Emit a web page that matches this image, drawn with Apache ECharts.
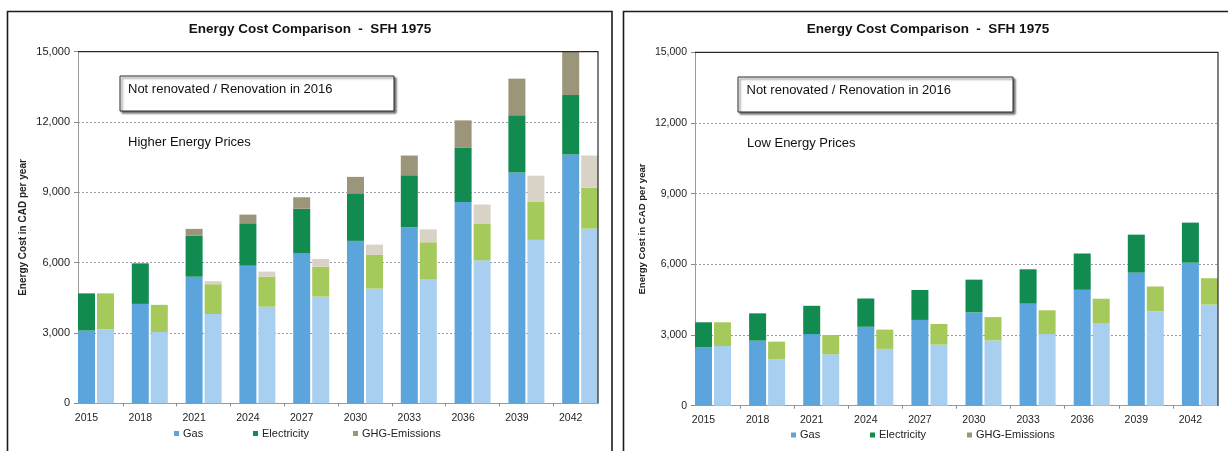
<!DOCTYPE html>
<html>
<head>
<meta charset="utf-8">
<title>Energy Cost Comparison - SFH 1975</title>
<script src="https://cdn.jsdelivr.net/npm/echarts@6.0.0/dist/echarts.min.js"></script>
<style>
  html, body { margin: 0; padding: 0; background: #ffffff; }
  #chart { width: 1228px; height: 451px; }
</style>
</head>
<body>
<div id="chart"></div>
<script>
// Years shown on the category axis (one pair of bars per year)
const years = ['2015', '2018', '2021', '2024', '2027', '2030', '2033', '2036', '2039', '2042'];

// Higher energy prices – not renovated (CAD per year)
const highGasNR  = [3100, 4240, 5400, 5870, 6390, 6930, 7510, 8590, 9850, 10610];
const highElecNR = [1590, 1730, 1750, 1810, 1910, 2030, 2220, 2320, 2440, 2540];
const highGhgNR  = [0, 0, 290, 370, 490, 700, 840, 1160, 1560, 1850];
// Higher energy prices – renovation in 2016
const highGasR   = [3160, 3040, 3810, 4120, 4550, 4890, 5300, 6100, 6970, 7450];
const highElecR  = [1530, 1160, 1270, 1280, 1280, 1440, 1570, 1550, 1620, 1750];
const highGhgR   = [0, 0, 130, 220, 330, 440, 550, 830, 1120, 1370];

// Low energy prices – not renovated
const lowGasNR   = [2480, 2760, 3040, 3350, 3640, 3960, 4330, 4920, 5650, 6070];
const lowElecNR  = [1060, 1160, 1200, 1200, 1270, 1390, 1460, 1540, 1610, 1700];
const lowGhgNR   = [0, 0, 0, 0, 0, 0, 0, 0, 0, 0];
// Low energy prices – renovation in 2016
const lowGasR    = [2530, 1970, 2180, 2410, 2590, 2770, 3040, 3510, 4000, 4290];
const lowElecR   = [1010, 750, 820, 820, 880, 990, 1010, 1030, 1060, 1120];
const lowGhgR    = [0, 0, 0, 0, 0, 0, 0, 0, 0, 0];

const legendNames = ['Gas', 'Electricity', 'GHG-Emissions'];
const yMax = 15000;
const yStep = 3000;

const FONT = '"Liberation Sans", Arial, Helvetica, sans-serif';
const colors = {
  gasNR: '#5ca5dc', elecNR: '#128b50', ghgNR: '#9b9579',
  gasR: '#a9cff0', elecR: '#a6c95c', ghgR: '#d9d3c7'
};

const barWidth = 17;
const barGapPx = 2;
const pairWidth = barWidth * 2 + barGapPx;

// Panel layout: plot frame, category band width, decorations
const panels = [
  {
    frame: { left: 78, top: 51.7, width: 520, height: 351.6 },
    band: 53.8,
    yLabelSize: 11, nameGap: 50, nameSize: 10, labelMargin: 9.5,
    title: { x: 310, y: 22 },
    border: { x: 7.5, y: 11.5, width: 604.5, height: 480 },
    box: { x: 120, y: 76, width: 274, height: 35 },
    boxText: { x: 128, y: 89.5 },
    note: { text: 'Higher Energy Prices', x: 128, y: 142 },
    legendLeft: [174, 253, 353],
    legendTop: 428,
    data: [highGasNR, highElecNR, highGhgNR, highGasR, highElecR, highGhgR]
  },
  {
    frame: { left: 695, top: 52.3, width: 523, height: 353.4 },
    band: 54.1,
    yLabelSize: 10.5, nameGap: 48, nameSize: 9.6, labelMargin: 8.5,
    title: { x: 928, y: 22 },
    border: { x: 623.5, y: 11.5, width: 640, height: 480 },
    box: { x: 738, y: 77, width: 275, height: 35 },
    boxText: { x: 746.5, y: 90.5 },
    note: { text: 'Low Energy Prices', x: 747, y: 143 },
    legendLeft: [791, 870, 967],
    legendTop: 429.5,
    data: [lowGasNR, lowElecNR, lowGhgNR, lowGasR, lowElecR, lowGhgR]
  }
];

// Tick positions between neighbouring year groups, in category-band units
const groupBoundaries = years.slice(1).map((_, k) => k + 1);

const grid = [], xAxis = [], yAxis = [], series = [], title = [], legend = [], graphic = [];

panels.forEach((p, i) => {
  const f = p.frame;
  const frameIdx = i * 2;
  const barIdx = i * 2 + 1;
  const margin = (p.band - pairWidth) / 2;
  const edge = margin / p.band;

  // Frame grid: value axis, grid lines, axis title, group ticks
  grid.push({ left: f.left, top: f.top, width: f.width, height: f.height });
  // Bar grid: category bands so that the outer bars touch the frame edges
  grid.push({ left: f.left - margin, top: f.top, width: p.band * years.length, height: f.height });

  xAxis.push({
    gridIndex: frameIdx, type: 'value', min: edge, max: years.length - edge,
    axisLine: { show: true, lineStyle: { color: '#9a9a9a', width: 1 } },
    axisTick: {
      show: true, length: 3, lineStyle: { color: '#8a8a8a' },
      customValues: groupBoundaries
    },
    axisLabel: { show: false }, splitLine: { show: false }
  });
  xAxis.push({
    gridIndex: barIdx, type: 'category', data: years,
    axisLine: { show: false },
    axisTick: { show: false },
    axisLabel: {
      show: true, interval: 0, margin: p.labelMargin,
      fontFamily: FONT, fontSize: 10.5, color: '#1e1e1e',
      padding: [0, barWidth + barGapPx, 0, 0]
    },
    splitLine: { show: false }
  });

  yAxis.push({
    gridIndex: frameIdx, type: 'value', min: 0, max: yMax, interval: yStep,
    name: 'Energy Cost in CAD per year', nameLocation: 'middle', nameGap: p.nameGap,
    nameTextStyle: { fontFamily: FONT, fontSize: p.nameSize, fontWeight: 'bold', color: '#222' },
    axisLine: { show: true, lineStyle: { color: '#9a9a9a', width: 1 } },
    axisTick: { show: true, length: 4, lineStyle: { color: '#8a8a8a' } },
    axisLabel: {
      margin: 8, fontFamily: FONT, fontSize: p.yLabelSize, color: '#1e1e1e',
      formatter: (v) => v.toLocaleString('en-US')
    },
    splitLine: { show: true, lineStyle: { color: '#9a9aa6', type: [2, 2], width: 1 } }
  });
  yAxis.push({
    gridIndex: barIdx, type: 'value', min: 0, max: yMax, show: false
  });

  const specs = [
    { name: 'Gas', stack: 'nr', color: colors.gasNR },
    { name: 'Electricity', stack: 'nr', color: colors.elecNR },
    { name: 'GHG-Emissions', stack: 'nr', color: colors.ghgNR },
    { name: 'Gas (renovated)', stack: 'r', color: colors.gasR },
    { name: 'Electricity (renovated)', stack: 'r', color: colors.elecR },
    { name: 'GHG-Emissions (renovated)', stack: 'r', color: colors.ghgR }
  ];
  specs.forEach((s, k) => {
    series.push({
      type: 'bar', name: s.name, stack: s.stack + i,
      xAxisIndex: barIdx, yAxisIndex: barIdx,
      data: p.data[k], barWidth: barWidth, barGap: (barGapPx / barWidth * 100) + '%',
      itemStyle: { color: s.color },
      emphasis: { disabled: true },
      animation: false
    });
  });

  title.push({
    text: 'Energy Cost Comparison  -  SFH 1975',
    left: p.title.x, top: p.title.y, textAlign: 'center', padding: 0,
    textStyle: { fontFamily: FONT, fontSize: 13.5, fontWeight: 'bold', color: '#111' }
  });

  legendNames.forEach((n, k) => {
    legend.push({
      data: [n], left: p.legendLeft[k], top: p.legendTop, padding: 0,
      icon: 'rect', itemWidth: 5, itemHeight: 5, itemGap: 0,
      selectedMode: false,
      textStyle: { fontFamily: FONT, fontSize: 11, color: '#222', padding: [0, 0, 0, -1] }
    });
  });

  // Panel outline
  graphic.push({
    type: 'rect', z: 100, silent: true,
    shape: { x: p.border.x, y: p.border.y, width: p.border.width, height: p.border.height },
    style: { fill: null, stroke: '#1c1c1c', lineWidth: 1.6 }
  });
  // Dark top and right edges of the plot area
  graphic.push({
    type: 'polyline', z: 100, silent: true,
    shape: { points: [[f.left, f.top], [f.left + f.width, f.top], [f.left + f.width, f.top + f.height]] },
    style: { fill: null, stroke: '#2a2a2a', lineWidth: 1.2 }
  });
  // Scenario box with drop shadow
  graphic.push({
    type: 'rect', z: 100, silent: true,
    shape: { x: p.box.x, y: p.box.y, width: p.box.width, height: p.box.height },
    style: {
      fill: '#ffffff', stroke: '#2a2a2a', lineWidth: 1,
      shadowBlur: 2, shadowOffsetX: 2, shadowOffsetY: 2, shadowColor: 'rgba(0,0,0,0.55)'
    }
  });
  graphic.push({
    type: 'text', z: 101, silent: true,
    style: {
      text: 'Not renovated / Renovation in 2016', x: p.boxText.x, y: p.boxText.y,
      textVerticalAlign: 'middle', font: '13px ' + FONT, fill: '#111'
    }
  });
  graphic.push({
    type: 'text', z: 101, silent: true,
    style: {
      text: p.note.text, x: p.note.x, y: p.note.y,
      textVerticalAlign: 'middle', font: '13px ' + FONT, fill: '#111'
    }
  });
});

const chart = echarts.init(document.getElementById('chart'), null, { renderer: 'canvas' });
chart.setOption({
  animation: false,
  backgroundColor: '#ffffff',
  textStyle: { fontFamily: FONT },
  title, legend, grid, xAxis, yAxis, series, graphic,
  tooltip: { show: false }
});
</script>
</body>
</html>
